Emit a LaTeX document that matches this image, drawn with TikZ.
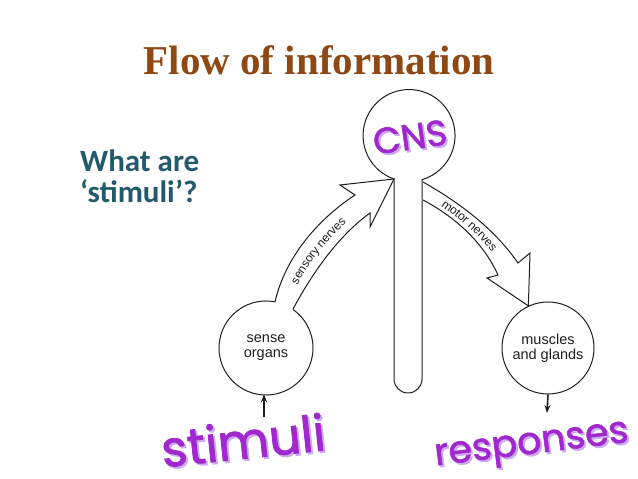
\documentclass[tikz,border=0pt]{standalone}
\usepackage{fontspec}
\setmainfont{Liberation Serif}
\newfontfamily\calib{Carlito}
\newfontfamily\arial{Liberation Sans}
\newfontfamily\comic{Poppins}[FakeBold=1.6]
\usetikzlibrary{decorations.text,arrows.meta}
\definecolor{titlebrown}{RGB}{142,72,20}
\definecolor{qteal}{RGB}{35,89,107}
\definecolor{hand}{RGB}{160,40,205}
\definecolor{handshadow}{RGB}{205,170,240}
\definecolor{ink}{RGB}{30,30,30}
\begin{document}
\begin{tikzpicture}[x=1pt,y=1pt,
  body/.style={draw=ink, line width=1pt, line join=miter},
  hw/.style={text=hand, inner sep=0},
  hws/.style={text=handshadow, inner sep=0},
  organ/.style={font=\arial\fontsize{14.5}{15}\selectfont, text=ink, align=center, circle, minimum size=92pt, inner sep=0},
  smallarrow/.style={draw=ink, line width=1.6pt, -{Stealth[length=8pt,width=6pt]}},
  ]
\useasboundingbox (0,0) rectangle (638,479);
% title and question
\node[font=\bfseries\fontsize{41}{44}\selectfont, text=titlebrown, anchor=base, inner sep=0] (title) at (319,404) {Flow of information};
\node[font=\calib\bfseries\fontsize{31}{31}\selectfont, text=qteal, anchor=base west, inner sep=0] (q1) at (80,307) {What are};
\node[font=\calib\bfseries\fontsize{31}{31}\selectfont, text=qteal, anchor=base west, inner sep=0] (q2) at (80,276) {‘stimuli’?};
% CNS with stem
\draw[body] (394,100) -- (394,300) arc[start angle=250.9,end angle=-73.6,radius=46] -- (422,100) arc[start angle=0,end angle=-180,radius=14] -- cycle;
\coordinate (cnsjoinL) at (394,300);
\coordinate (cnsjoinR) at (422,299);
% organs
\node[organ] (sense) at (266,131) {sense\\organs};
\draw[body] (sense.center) ++(79:47) arc[start angle=79,end angle=415,radius=47];
\node[organ, draw=ink, line width=1pt] (musc) at (548,131) {muscles\\and glands};
% sensory nerves arrow
\draw[body] (275,177) .. controls (285,221) and (317,259) .. (355,284) -- (340,294) -- (cnsjoinL) -- (370,252) -- (370,266) .. controls (337,242) and (312,205) .. (293,170);
\path[decorate, decoration={text along path, text={|\arial\fontsize{12}{12}\selectfont\color{ink}|sensory nerves}, text align=center, raise=-4pt}] (284,173.5) .. controls (298.5,213) and (328,249.5) .. (362.5,275);
% motor nerves arrow
\draw[body] (423,297) .. controls (460,276) and (494,250.5) .. (518,216) -- (530,226) -- (musc.115) -- (487,201) -- (498,204) .. controls (483,237) and (455,262) .. (423,279);
\path[decorate, decoration={text along path, text={|\arial\fontsize{12}{12}\selectfont\color{ink}|motor nerves}, text align=center, raise=-4pt}] (423,288) .. controls (457.5,269) and (488.5,243.75) .. (508,210);
% stimuli / responses arrows
\coordinate (stimtail) at (264,62);
\draw[smallarrow] (stimtail) -- (stimtail |- sense.south);
\coordinate (resptip) at (547,66);
\draw[smallarrow] (musc.south) -- (resptip);
% handwritten labels
\node[hws, font=\comic\fontsize{36}{36}\selectfont, rotate=8] at (412,340) {CNS};
\node[hw, font=\comic\fontsize{36}{36}\selectfont, rotate=8] (cns) at (410,342) {CNS};
\node[hws, font=\comic\fontsize{50}{50}\selectfont, rotate=6] at (245,37) {stimuli};
\node[hw, font=\comic\fontsize{50}{50}\selectfont, rotate=6] (stim) at (243,39) {stimuli};
\node[hws, font=\comic\fontsize{38}{38}\selectfont, rotate=7] at (534,29) {responses};
\node[hw, font=\comic\fontsize{38}{38}\selectfont, rotate=7] (resp) at (532,31) {responses};
\end{tikzpicture}
\end{document}
